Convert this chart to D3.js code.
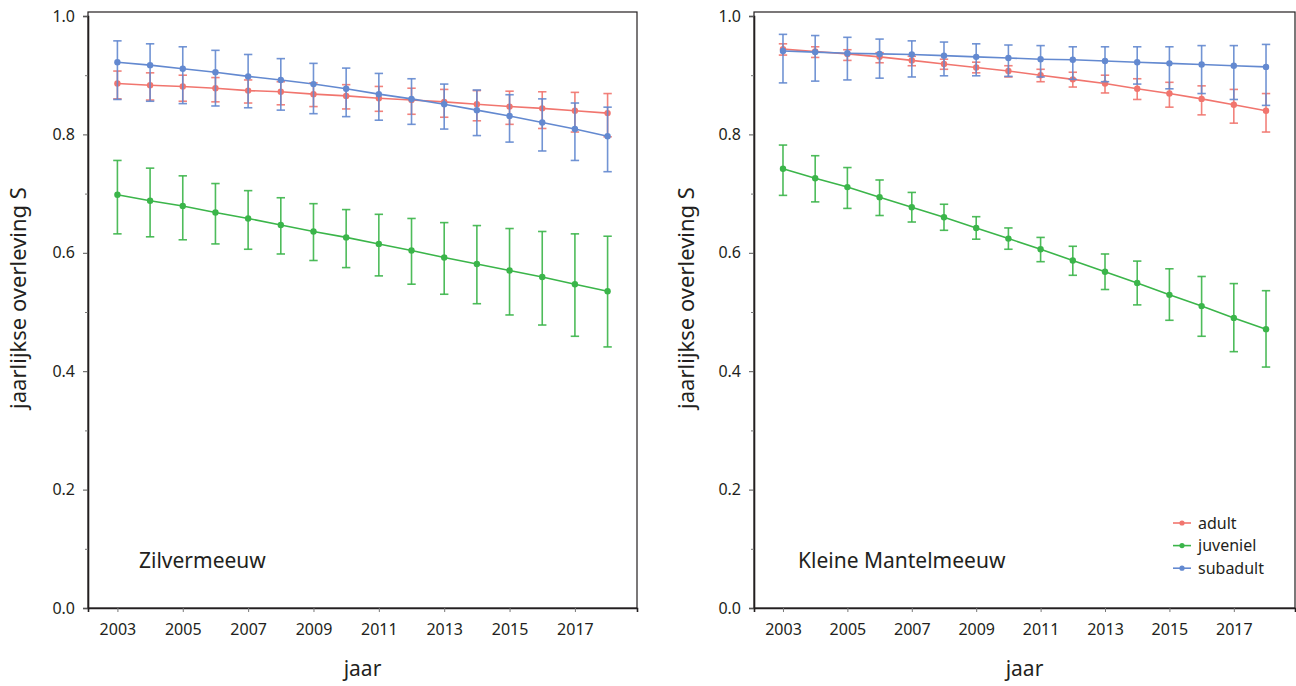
<!DOCTYPE html>
<html><head><meta charset="utf-8">
<script src="https://cdn.jsdelivr.net/npm/d3@7"></script>
<style>
body{margin:0;background:#fff;}
svg{display:block;font-family:"Noto Sans",sans-serif;}
</style></head>
<body><svg id="c" width="1296" height="686"></svg>
<script>
const years = [2003,2004,2005,2006,2007,2008,2009,2010,2011,2012,2013,2014,2015,2016,2017,2018];
const xTickYears = [2003,2005,2007,2009,2011,2013,2015,2017];
const yTickValues = [0,0.2,0.4,0.6,0.8,1.0];
const yMinorValues = [0.1,0.3,0.5,0.7,0.9];
const seriesNames = ["adult","juveniel","subadult"];
const seriesColors = ["#F1756E","#3BB54A","#6389D0"];
const panelNames = ["Zilvermeeuw","Kleine Mantelmeeuw"];

// Zilvermeeuw
const zilAdult   = [0.886,0.883,0.881,0.878,0.874,0.872,0.868,0.865,0.861,0.858,0.855,0.851,0.847,0.844,0.840,0.836];
const zilAdultHi = [0.907,0.904,0.900,0.896,0.892,0.889,0.887,0.884,0.881,0.878,0.876,0.874,0.873,0.872,0.871,0.869];
const zilAdultLo = [0.860,0.858,0.856,0.855,0.853,0.850,0.847,0.843,0.839,0.834,0.829,0.823,0.817,0.810,0.804,0.796];
const zilJuv     = [0.698,0.688,0.679,0.668,0.658,0.647,0.636,0.626,0.615,0.604,0.592,0.581,0.570,0.559,0.547,0.535];
const zilJuvHi   = [0.756,0.743,0.730,0.717,0.705,0.693,0.683,0.673,0.665,0.658,0.651,0.646,0.641,0.636,0.632,0.628];
const zilJuvLo   = [0.632,0.627,0.622,0.615,0.606,0.598,0.587,0.575,0.561,0.547,0.530,0.514,0.495,0.478,0.459,0.441];
const zilSub     = [0.922,0.917,0.911,0.905,0.898,0.892,0.885,0.877,0.868,0.860,0.851,0.841,0.831,0.820,0.809,0.797];
const zilSubHi   = [0.958,0.953,0.948,0.942,0.935,0.928,0.920,0.912,0.903,0.894,0.885,0.875,0.867,0.860,0.853,0.846];
const zilSubLo   = [0.859,0.856,0.852,0.848,0.845,0.841,0.835,0.830,0.824,0.817,0.809,0.798,0.787,0.772,0.756,0.737];

// Kleine Mantelmeeuw
const kmAdult   = [0.944,0.940,0.936,0.931,0.925,0.919,0.913,0.907,0.900,0.893,0.886,0.877,0.869,0.860,0.850,0.840];
const kmAdultHi = [0.953,0.948,0.943,0.938,0.932,0.927,0.922,0.916,0.910,0.905,0.900,0.894,0.888,0.882,0.876,0.869];
const kmAdultLo = [0.934,0.930,0.925,0.921,0.916,0.910,0.904,0.897,0.889,0.880,0.870,0.859,0.846,0.833,0.819,0.804];
const kmJuv     = [0.742,0.726,0.711,0.694,0.677,0.660,0.642,0.624,0.606,0.587,0.568,0.549,0.529,0.510,0.490,0.471];
const kmJuvHi   = [0.782,0.764,0.744,0.723,0.702,0.682,0.661,0.642,0.626,0.611,0.598,0.586,0.573,0.560,0.548,0.536];
const kmJuvLo   = [0.697,0.686,0.675,0.663,0.652,0.638,0.623,0.606,0.585,0.562,0.538,0.512,0.486,0.459,0.433,0.407];
const kmSub     = [0.941,0.939,0.937,0.936,0.935,0.933,0.931,0.929,0.927,0.926,0.924,0.922,0.920,0.918,0.916,0.914];
const kmSubHi   = [0.969,0.967,0.964,0.961,0.958,0.956,0.953,0.951,0.950,0.948,0.948,0.948,0.948,0.950,0.950,0.952];
const kmSubLo   = [0.887,0.890,0.892,0.895,0.897,0.899,0.899,0.898,0.897,0.893,0.889,0.885,0.877,0.869,0.859,0.849];

const panelData = [
  [[zilAdult,zilAdultLo,zilAdultHi],[zilJuv,zilJuvLo,zilJuvHi],[zilSub,zilSubLo,zilSubHi]],
  [[kmAdult,kmAdultLo,kmAdultHi],[kmJuv,kmJuvLo,kmJuvHi],[kmSub,kmSubLo,kmSubHi]]
];

const svg = d3.select("#c");
const layout = [
  {x0:88, x1:637, y0:12, y1:608, titleX:26, labelX:139, labelY:568, legend:false},
  {x0:754, x1:1295, y0:12, y1:608, titleX:694, labelX:798, labelY:568, legend:true}
];
const axisColor = "#231f20";

layout.forEach((L, pi) => {
  const g = svg.append("g");
  const x = d3.scaleLinear().domain([2002.1, 2018.9]).range([L.x0, L.x1]);
  const y = d3.scaleLinear().domain([0, 1]).range([L.y1, 16]);

  // frame
  g.append("rect").attr("x", L.x0).attr("y", L.y0)
    .attr("width", L.x1 - L.x0).attr("height", L.y1 - L.y0)
    .attr("fill", "none").attr("stroke", axisColor).attr("stroke-width", 1.2);

  // y axis
  const ya = g.append("g").attr("transform", `translate(${L.x0},0)`)
    .call(d3.axisLeft(y).tickValues(yTickValues).tickFormat(d3.format(".1f")).tickSize(5).tickPadding(8));
  ya.select(".domain").attr("stroke", axisColor).attr("stroke-width", 1.6);
  ya.selectAll(".tick line").attr("stroke", "#555");
  ya.selectAll(".tick text").attr("font-size", 16).attr("fill", "#231f20").attr("font-family", "Noto Sans");
  const ym = g.append("g").attr("transform", `translate(${L.x0},0)`)
    .call(d3.axisLeft(y).tickValues(yMinorValues).tickFormat("").tickSize(3));
  ym.select(".domain").remove();
  ym.selectAll(".tick line").attr("stroke", "#777");

  // x axis
  const xa = g.append("g").attr("transform", `translate(0,${L.y1})`)
    .call(d3.axisBottom(x).tickValues(xTickYears).tickFormat(d3.format("d")).tickSize(4).tickPadding(12));
  xa.select(".domain").attr("stroke", axisColor).attr("stroke-width", 1.6);
  xa.selectAll(".tick line").attr("stroke", "#777");
  xa.selectAll(".tick text").attr("font-size", 16).attr("fill", "#231f20").attr("font-family", "Noto Sans");

  // axis titles
  g.append("text").attr("x", (L.x0 + L.x1) / 2).attr("y", 676)
    .attr("text-anchor", "middle").attr("font-size", 21).attr("fill", "#231f20").text("jaar");
  g.append("text").attr("transform", `translate(${L.titleX},${(L.y0 + L.y1) / 2 - 12}) rotate(-90)`)
    .attr("text-anchor", "middle").attr("font-size", 22).attr("fill", "#231f20").text("jaarlijkse overleving S");

  // panel label
  g.append("text").attr("x", L.labelX).attr("y", L.labelY)
    .attr("font-size", 21).attr("fill", "#231f20").text(panelNames[pi]);

  // series
  panelData[pi].forEach((s, si) => {
    const [est, lo, hi] = s;
    const col = seriesColors[si];
    const sg = g.append("g");
    const rows = years.map((yr, i) => ({yr, v: est[i], lo: lo[i], hi: hi[i]}));
    sg.selectAll(".eb").data(rows).join("line")
      .attr("x1", d => x(d.yr)).attr("x2", d => x(d.yr))
      .attr("y1", d => y(d.lo)).attr("y2", d => y(d.hi))
      .attr("stroke", col).attr("stroke-width", 1.6).attr("opacity", 0.9);
    ["lo","hi"].forEach(k => {
      sg.selectAll(".cap" + k).data(rows).join("line")
        .attr("x1", d => x(d.yr) - 4.2).attr("x2", d => x(d.yr) + 4.2)
        .attr("y1", d => y(d[k])).attr("y2", d => y(d[k]))
        .attr("stroke", col).attr("stroke-width", 1.6).attr("opacity", 0.9);
    });
    sg.append("path").datum(rows)
      .attr("d", d3.line().x(d => x(d.yr)).y(d => y(d.v)))
      .attr("fill", "none").attr("stroke", col).attr("stroke-width", 1.6);
    sg.selectAll("circle").data(rows).join("circle")
      .attr("cx", d => x(d.yr)).attr("cy", d => y(d.v)).attr("r", 3.2).attr("fill", col);
  });

  if (L.legend) {
    const lg = g.append("g");
    seriesNames.forEach((n, i) => {
      const yy = 523 + i * 22.6;
      lg.append("line").attr("x1", 1173).attr("x2", 1191).attr("y1", yy).attr("y2", yy)
        .attr("stroke", seriesColors[i]).attr("stroke-width", 1.6);
      lg.append("circle").attr("cx", 1182).attr("cy", yy).attr("r", 2.6).attr("fill", seriesColors[i]);
      lg.append("text").attr("x", 1198).attr("y", yy + 5.5).attr("font-size", 16)
        .attr("fill", "#231f20").text(n);
    });
  }
});
</script></body></html>
